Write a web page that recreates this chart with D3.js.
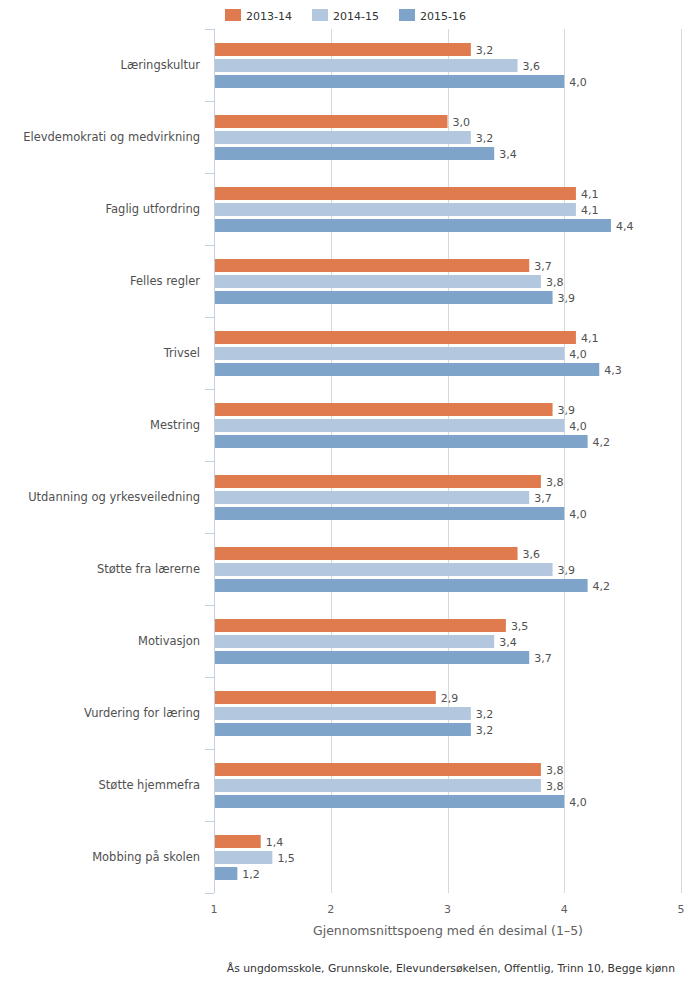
<!DOCTYPE html>
<html><head><meta charset="utf-8">
<script src="https://cdn.jsdelivr.net/npm/d3@7"></script>
<style>body{margin:0;background:#fff;}svg{display:block;font-family:"DejaVu Sans",Verdana,sans-serif;}</style>
</head><body>
<svg id="c" width="700" height="998"></svg>
<script>
const categories = ["Læringskultur","Elevdemokrati og medvirkning","Faglig utfordring","Felles regler","Trivsel","Mestring","Utdanning og yrkesveiledning","Støtte fra lærerne","Motivasjon","Vurdering for læring","Støtte hjemmefra","Mobbing på skolen"];
const seriesNames = ["2013-14","2014-15","2015-16"];
const s2013 = [3.2,3.0,4.1,3.7,4.1,3.9,3.8,3.6,3.5,2.9,3.8,1.4];
const s2014 = [3.6,3.2,4.1,3.8,4.0,4.0,3.7,3.9,3.4,3.2,3.8,1.5];
const s2015 = [4.0,3.4,4.4,3.9,4.3,4.2,4.0,4.2,3.7,3.2,4.0,1.2];
const xTicks = [1,2,3,4,5];
const colors = ["#e07b4f","#b3c8de","#7fa4c9"];
const xTitle = "Gjennomsnittspoeng med én desimal (1–5)";
const credits = "Ås ungdomsskole, Grunnskole, Elevundersøkelsen, Offentlig, Trinn 10, Begge kjønn";

const series = [s2013,s2014,s2015];
const svg = d3.select("#c");
const pLeft = 214, pRight = 681, pTop = 29, pBottom = 893;
const x = d3.scaleLinear().domain([1,5]).range([pLeft,pRight]);
const y = d3.scaleBand().domain(categories).range([pTop,pBottom]);
const inner = d3.scaleBand().domain(seriesNames).range([14,59]).paddingInner(3/16);

// grid
svg.append("g").selectAll("line").data(xTicks.slice(1)).join("line")
  .attr("x1",d=>Math.round(x(d))+0.5).attr("x2",d=>Math.round(x(d))+0.5)
  .attr("y1",pTop).attr("y2",pBottom).attr("stroke","#d8d8d8").attr("stroke-width",1);

// x tick labels
svg.append("g").selectAll("text").data(xTicks).join("text")
  .attr("x",d=>x(d)).attr("y",913).attr("text-anchor","middle")
  .attr("font-size",11).attr("fill","#606060").text(d=>d);

svg.append("text").attr("x",448).attr("y",935).attr("text-anchor","middle")
  .attr("font-size",12.5).attr("fill","#606060").text(xTitle);

// y axis line & ticks
svg.append("line").attr("x1",pLeft+0.5).attr("x2",pLeft+0.5).attr("y1",pTop).attr("y2",pBottom)
  .attr("stroke","#c0d0e0");
const bounds = [0,...categories.map((c,i)=>i+1)];
svg.append("g").selectAll("line").data(bounds).join("line")
  .attr("x1",pLeft-9).attr("x2",pLeft)
  .attr("y1",i=>Math.round(pTop+i*y.step())+0.5).attr("y2",i=>Math.round(pTop+i*y.step())+0.5)
  .attr("stroke","#c0d0e0");

// category labels
svg.append("g").selectAll("text").data(categories).join("text")
  .attr("x",200).attr("y",d=>y(d)+y.bandwidth()/2+4).attr("text-anchor","end")
  .attr("font-size",11.5).attr("fill","#505050").text(d=>d);

// bars
series.forEach((vals,si)=>{
  const g = svg.append("g");
  g.selectAll("rect").data(vals).join("rect")
    .attr("x",pLeft+1).attr("y",(d,i)=>y(categories[i])+inner(seriesNames[si]))
    .attr("width",d=>x(d)-pLeft-1).attr("height",inner.bandwidth())
    .attr("fill",colors[si]);
  g.selectAll("text").data(vals).join("text")
    .attr("x",d=>x(d)+5).attr("y",(d,i)=>y(categories[i])+inner(seriesNames[si])+inner.bandwidth()/2+4)
    .attr("font-size",11).attr("fill","#505050").text(d=>d.toFixed(1).replace(".",","));
});

// legend
const legX = [225,312,399];
const lg = svg.append("g");
seriesNames.forEach((n,i)=>{
  lg.append("rect").attr("x",legX[i]).attr("y",9).attr("width",16).attr("height",12).attr("fill",colors[i]);
  lg.append("text").attr("x",legX[i]+21).attr("y",19.5).attr("font-size",11).attr("fill","#333").text(n);
});

svg.append("text").attr("x",675).attr("y",972).attr("text-anchor","end")
  .attr("font-size",10.8).attr("fill","#333").text(credits);
</script>
</body></html>
